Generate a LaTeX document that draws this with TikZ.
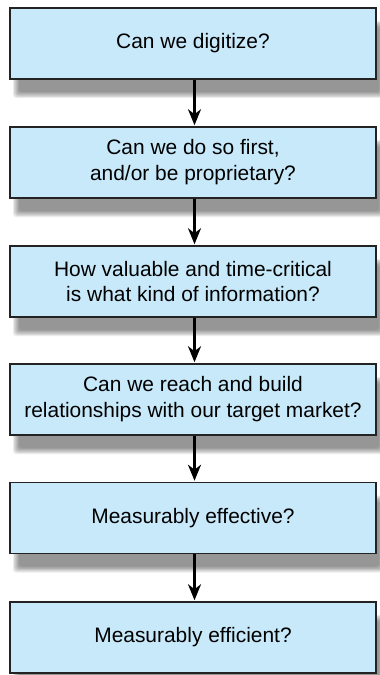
\documentclass[tikz,border=0pt]{standalone}
\usepackage{fontspec}
\setmainfont{Liberation Sans}
\usetikzlibrary{arrows.meta}
\definecolor{boxfill}{RGB}{199,233,250}
\definecolor{boxline}{RGB}{35,35,35}
\tikzset{
  qbox/.style={draw=boxline, line width=1.5bp, fill=boxfill,
    minimum width=366bp, minimum height=71bp, inner sep=0pt,
    align=center, font=\fontsize{21}{26}\selectfont},
  shadowlayer/.style={draw=none, rounded corners=3bp},
  flow/.style={line width=2.5bp, draw=black,
    -{Stealth[length=16bp,width=13bp,inset=5bp]}}
}
\begin{document}
\begin{tikzpicture}[x=1bp,y=1bp]
  \useasboundingbox (0,0) rectangle (379,-675);
  % soft drop shadows behind each box: nested grey rectangles,
  % darker towards the middle, offset right and down
  \foreach \cy in {-43.5,-162.5,-281.5,-399.5,-518,-637.5} {
    \foreach \i/\gg in {0/8,1/16,2/24,3/31,4/37,5/41} {
      \pgfmathsetmacro{\dd}{\i*1.2-3}
      \fill[shadowlayer, fill=black!\gg]
        (10+6+\dd, \cy-35.5-16+\dd) rectangle (376+6-\dd, \cy+35.5-16-\dd);
    }
  }
  \node[qbox] (b1) at (193,-43.5)  {Can we digitize?};
  \node[qbox] (b2) at (193,-162.5) {Can we do so first,\\and/or be proprietary?};
  \node[qbox] (b3) at (193,-281.5) {How valuable and time-critical\\is what kind of information?};
  \node[qbox] (b4) at (193,-399.5) {Can we reach and build\\relationships with our target market?};
  \node[qbox] (b5) at (193,-518)   {Measurably effective?};
  \node[qbox] (b6) at (193,-637.5) {Measurably efficient?};
  \foreach \a/\b in {b1/b2,b2/b3,b3/b4,b4/b5,b5/b6}
    \draw[flow] ([xshift=1.5bp]\a.south) -- ([xshift=1.5bp,yshift=1bp]\b.north);
\end{tikzpicture}
\end{document}
